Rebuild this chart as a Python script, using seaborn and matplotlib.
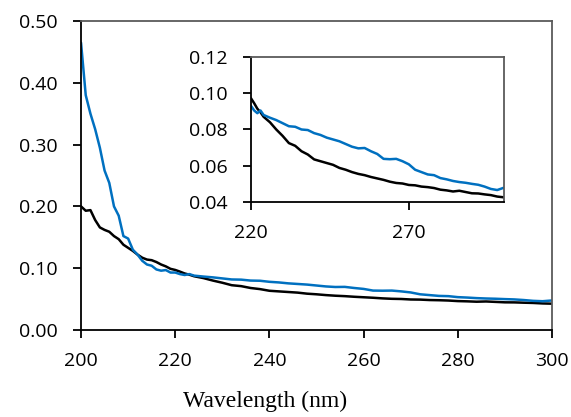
import matplotlib
matplotlib.use("Agg")
import matplotlib.pyplot as plt
import numpy as np
import pandas as pd
import seaborn as sns

# wavelength grid (nm)
wavelength = [200, 201, 202, 203, 204, 205, 206, 207, 208, 209, 210, 211, 212,
              213, 214, 215, 216, 217, 218, 219, 220, 221, 222, 223, 224,
              226, 228, 230, 232, 234, 236, 238, 240, 242, 244, 246, 248, 250,
              252, 254, 256, 258, 260, 262, 264, 266, 268, 270, 272, 274, 276,
              278, 280, 282, 284, 286, 288, 290, 292, 294, 296, 298, 300]

blue_abs = [0.465, 0.380, 0.350, 0.325, 0.295, 0.258, 0.238, 0.200, 0.185, 0.152,
            0.148, 0.130, 0.122, 0.112, 0.106, 0.104, 0.098, 0.096, 0.097, 0.093,
            0.0930, 0.0905, 0.0890, 0.0905, 0.0880,
            0.0865, 0.0852, 0.0835, 0.0818, 0.0815, 0.0800, 0.0797, 0.0780, 0.0770,
            0.0755, 0.0745, 0.0735, 0.0720, 0.0705, 0.0696, 0.0698, 0.0680, 0.0665,
            0.0638, 0.0636, 0.0638, 0.0625, 0.0608, 0.0578, 0.0565, 0.0552, 0.0548,
            0.0532, 0.0525, 0.0516, 0.0510, 0.0506, 0.0500, 0.0495, 0.0485, 0.0472,
            0.0466, 0.0478]

black_abs = [0.200, 0.193, 0.194, 0.178, 0.166, 0.162, 0.159, 0.152, 0.147, 0.138,
             0.133, 0.128, 0.122, 0.117, 0.114, 0.113, 0.110, 0.106, 0.103, 0.099,
             0.0972, 0.0945, 0.0915, 0.0895, 0.0870,
             0.0840, 0.0800, 0.0765, 0.0725, 0.0710, 0.0680, 0.0662, 0.0635, 0.0625,
             0.0615, 0.0605, 0.0588, 0.0578, 0.0565, 0.0555, 0.0548, 0.0538, 0.0530,
             0.0522, 0.0512, 0.0505, 0.0502, 0.0494, 0.0492, 0.0485, 0.0482, 0.0477,
             0.0468, 0.0464, 0.0458, 0.0462, 0.0455, 0.0448, 0.0447, 0.0442, 0.0438,
             0.0430, 0.0426]

main_yticks = [0.0, 0.1, 0.2, 0.3, 0.4, 0.5]
main_xticks = [200, 220, 240, 260, 280, 300]
inset_yticks = [0.04, 0.06, 0.08, 0.10, 0.12]
inset_xticks = [220, 270]

BLUE = "#0070C0"
BLACK = "#000000"

sns.set_style("white")
plt.rcParams['font.family'] = ['Open Sans', 'DejaVu Sans']

df = pd.DataFrame({"wl": wavelength, "blue": blue_abs, "black": black_abs})

fig = plt.figure(figsize=(5.71, 4.17), dpi=100)
ax = fig.add_axes([0.1419, 0.2086, 0.8248, 0.7410])


def style_axes(a, fs):
    for s in ["left", "bottom"]:
        a.spines[s].set_color("black")
        a.spines[s].set_linewidth(1.3)
    for s in ["top", "right"]:
        a.spines[s].set_color("#5a5a5a")
        a.spines[s].set_linewidth(1.3)
    a.tick_params(axis="both", direction="out", length=6, width=1.3,
                  color="black", labelcolor="black", labelsize=fs)
    a.tick_params(axis="y", pad=11)
    a.tick_params(axis="x", pad=10)
    a.tick_params(top=False, right=False, left=True, bottom=True)


sns.lineplot(data=df, x="wl", y="black", ax=ax, color=BLACK, linewidth=1.8)
sns.lineplot(data=df, x="wl", y="blue", ax=ax, color=BLUE, linewidth=1.8)
ax.set_xlim(200, 300)
ax.set_ylim(0, 0.5)
ax.set_xticks(main_xticks)
ax.set_yticks(main_yticks)
ax.set_yticklabels([f"{v:.2f}" for v in main_yticks])
ax.set_xlabel("")
ax.set_ylabel("")
style_axes(ax, 14)

ins = fig.add_axes([0.4396, 0.5156, 0.4422, 0.3477])
sub = df[df.wl >= 220]
sns.lineplot(data=sub, x="wl", y="black", ax=ins, color=BLACK, linewidth=1.8)
sns.lineplot(data=sub, x="wl", y="blue", ax=ins, color=BLUE, linewidth=1.8)
ins.set_xlim(220, 300)
ins.set_ylim(0.04, 0.12)
ins.set_xticks(inset_xticks)
ins.set_yticks(inset_yticks)
ins.set_yticklabels([f"{v:.2f}" for v in inset_yticks])
ins.set_xlabel("")
ins.set_ylabel("")
style_axes(ins, 14)

fig.text(265 / 571, 1 - 401 / 417, "Wavelength (nm)", ha="center", va="center",
         fontsize=17, color="black", family="Liberation Serif")

fig.savefig("out.png", dpi=100, facecolor="white")
